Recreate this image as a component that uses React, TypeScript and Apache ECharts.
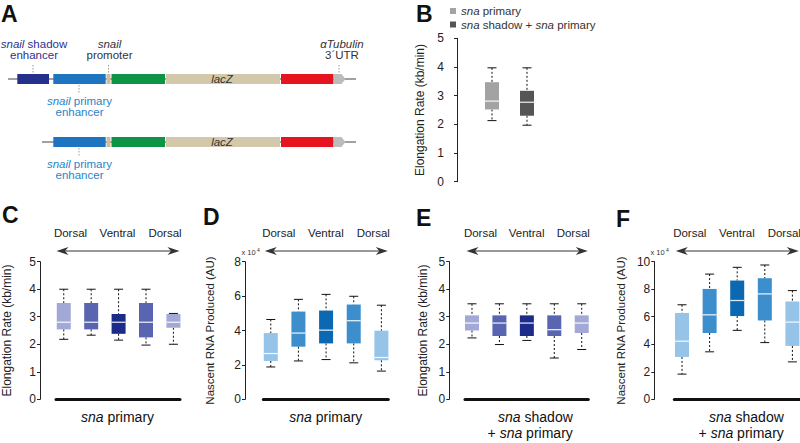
import React, { useEffect, useRef } from 'react';
import * as echarts from 'echarts';

const FONT = '"Liberation Sans", Arial, Helvetica, sans-serif';

// ---------- DATA ----------
const positions = [1, 2, 3, 4, 5]; // embryo position: Dorsal -> Ventral -> Dorsal
const regionLabels = ['Dorsal', 'Ventral', 'Dorsal'];
const legendNames = ['sna primary', 'sna shadow + sna primary'];

// boxes as [min, q1, median, q3, max]
const bSnaPrimary = [2.13, 2.52, 2.81, 3.47, 3.97];
const bShadowPlusPrimary = [1.97, 2.3, 2.77, 3.17, 3.97];

const cRateSnaPrimary = [
  [2.18, 2.54, 2.8, 3.5, 4.0],
  [2.33, 2.54, 2.8, 3.5, 4.0],
  [2.15, 2.38, 2.8, 3.1, 4.0],
  [1.97, 2.25, 2.8, 3.5, 4.0],
  [2.0, 2.6, 2.8, 3.1, 3.12],
];
const dRnaSnaPrimary = [
  [1.88, 2.23, 2.66, 3.85, 4.64],
  [2.23, 3.06, 3.85, 5.1, 5.81],
  [2.31, 3.25, 4.02, 5.16, 6.1],
  [2.12, 3.25, 4.57, 5.51, 5.99],
  [1.64, 2.27, 2.43, 3.99, 5.47],
];
const eRateShadowPrimary = [
  [2.23, 2.5, 2.77, 3.05, 3.47],
  [1.99, 2.3, 2.77, 3.05, 3.47],
  [2.14, 2.3, 2.77, 3.05, 3.47],
  [1.5, 2.3, 2.53, 3.05, 3.47],
  [1.81, 2.41, 2.77, 3.05, 3.47],
];
const fRnaShadowPrimary = [
  [1.83, 3.08, 4.22, 6.27, 6.87],
  [3.45, 4.82, 6.14, 8.02, 9.1],
  [5.01, 6.05, 7.18, 8.63, 9.59],
  [4.12, 5.73, 7.66, 8.8, 9.76],
  [2.72, 3.88, 5.61, 7.11, 7.9],
];

// ---------- STYLE / LAYOUT ----------
const grayColors = ['#a3a3a3', '#555555'];
const purpleColors = ['#a3a9d6', '#5a65b1', '#1c2a8a', '#5a65b1', '#a3a9d6'];
const blueColors = ['#95c4e8', '#3d8ecd', '#0c68b1', '#3d8ecd', '#95c4e8'];

const panels = [
  { key: 'B', left: 448, width: 100, top: 38.3, height: 143.4, offset: 0, xMin: -0.257, xMax: 2.6, yMax: 5, yInterval: 1, yName: 'Elongation Rate (kb/min)', nameGap: 22, nameSize: 12, baseline: false },
  { key: 'C', left: 55, width: 125, top: 261.7, height: 137.6, offset: 16, xMin: 0.717, xMax: 5.24, yMax: 5, yInterval: 1, yName: 'Elongation Rate (kb/min)', nameGap: 27, nameSize: 12, baseline: true },
  { key: 'D', left: 263.3, width: 125, top: 261.7, height: 137.6, offset: 18.3, xMin: 0.73, xMax: 5.25, yMax: 8, yInterval: 2, yName: 'Nascent RNA Produced (AU)', nameGap: 29, nameSize: 11.5, baseline: true },
  { key: 'E', left: 465, width: 123.3, top: 261.7, height: 137.6, offset: 15.7, xMin: 0.745, xMax: 5.24, yMax: 5, yInterval: 1, yName: 'Elongation Rate (kb/min)', nameGap: 20, nameSize: 12, baseline: true },
  { key: 'F', left: 674.3, width: 125, top: 261.7, height: 137.6, offset: 20, xMin: 0.72, xMax: 5.25, yMax: 10, yInterval: 2, yName: 'Nascent RNA Produced (AU)', nameGap: 27, nameSize: 11.5, baseline: true },
];

const renderBox = (colors: string[]) => (params: any, api: any) => {
  const x = api.value(0);
  const lo = api.coord([x, api.value(1)]);
  const q1 = api.coord([x, api.value(2)]);
  const med = api.coord([x, api.value(3)]);
  const q3 = api.coord([x, api.value(4)]);
  const hi = api.coord([x, api.value(5)]);
  const cx = lo[0];
  const bw = 14;
  const cw = 9;
  const color = colors[params.dataIndex % colors.length];
  const dotted = { stroke: '#111', lineWidth: 1, lineDash: [2, 2] };
  const solid = { stroke: '#111', lineWidth: 1 };
  return {
    type: 'group',
    children: [
      { type: 'line', shape: { x1: cx, y1: hi[1], x2: cx, y2: q3[1] }, style: dotted },
      { type: 'line', shape: { x1: cx, y1: q1[1], x2: cx, y2: lo[1] }, style: dotted },
      { type: 'line', shape: { x1: cx - cw / 2, y1: hi[1], x2: cx + cw / 2, y2: hi[1] }, style: solid },
      { type: 'line', shape: { x1: cx - cw / 2, y1: lo[1], x2: cx + cw / 2, y2: lo[1] }, style: solid },
      { type: 'rect', shape: { x: cx - bw / 2, y: q3[1], width: bw, height: q1[1] - q3[1] }, style: { fill: color } },
      { type: 'line', shape: { x1: cx - bw / 2, y1: med[1], x2: cx + bw / 2, y2: med[1] }, style: { stroke: 'rgba(255,255,255,0.85)', lineWidth: 1.3 } },
    ],
  };
};

const boxSeries = (name: string, idx: number, boxes: number[][], xs: number[], colors: string[]) => ({
  type: 'custom',
  name,
  xAxisIndex: idx,
  yAxisIndex: idx,
  clip: false,
  itemStyle: { color: colors[0] },
  encode: { x: 0, y: [1, 2, 3, 4, 5] },
  renderItem: renderBox(colors),
  data: boxes.map((b, k) => [xs[k], ...b]),
});

const txt = (text: string, x: number, y: number, opts: any = {}) => {
  const fs = opts.fontSize || 11.5;
  const lh = opts.lineHeight || undefined;
  return {
    type: 'text',
    silent: true,
    style: {
      text,
      x,
      y,
      fill: opts.fill || '#333',
      fontSize: fs,
      fontFamily: FONT,
      fontWeight: opts.fontWeight || 'normal',
      fontStyle: opts.fontStyle || 'normal',
      align: opts.align || 'center',
      verticalAlign: opts.verticalAlign || 'middle',
      lineHeight: lh,
      rich: {
        i: { fontStyle: 'italic', fontSize: fs, fontFamily: FONT, fill: opts.fill || '#333', lineHeight: lh },
        n: { fontSize: fs, fontFamily: FONT, fill: opts.fill || '#333', lineHeight: lh },
      },
    },
  };
};

const vdots = (x: number, y1: number, y2: number) => ({
  type: 'line',
  silent: true,
  shape: { x1: x, y1, x2: x, y2 },
  style: { stroke: '#9a9a9a', lineWidth: 1, lineDash: [1.5, 1.5] },
});

function constructGraphic(): any[] {
  const els: any[] = [];
  // panel letters
  const letters: [string, number, number][] = [
    ['A', 1, 13.5], ['B', 416, 13.5], ['C', 2, 214.5], ['D', 203, 217], ['E', 416, 218], ['F', 616, 219],
  ];
  letters.forEach(([l, x, y]) => els.push(txt(l, x, y, { fontSize: 23, fontWeight: 'bold', fill: '#111', align: 'left' })));

  // ---- panel A: reporter constructs ----
  const segColors = {
    shadow: '#24308c', primary: '#1f74c1', promoter: '#cdbf9e', green: '#0e9447', lacz: '#d4c8aa', red: '#e6141f', utr: '#bcbcbc',
  };
  const rows = [
    { y: 79, lineStart: 8, shadow: true },
    { y: 142, lineStart: 42, shadow: false },
  ];
  rows.forEach((r) => {
    const h = 10;
    const top = r.y - h / 2;
    els.push({ type: 'line', silent: true, shape: { x1: r.lineStart, y1: r.y, x2: 356, y2: r.y }, style: { stroke: '#444', lineWidth: 1 } });
    const segs: [number, number, string][] = [];
    if (r.shadow) segs.push([17.3, 49, segColors.shadow]);
    segs.push([53.3, 105.7, segColors.primary]);
    segs.push([106.5, 110.5, segColors.promoter]);
    segs.push([111.5, 165, segColors.green]);
    segs.push([166, 280, segColors.lacz]);
    segs.push([281, 333.5, segColors.red]);
    segs.forEach(([a, b, c]) => els.push({ type: 'rect', silent: true, shape: { x: a, y: top, width: b - a, height: h }, style: { fill: c } }));
    els.push({
      type: 'polygon', silent: true,
      shape: { points: [[333.5, top], [341.5, top], [345.5, r.y], [341.5, top + h], [333.5, top + h]] },
      style: { fill: segColors.utr },
    });
    els.push(txt('lacZ', 222, r.y, { fontStyle: 'italic', fill: '#333' }));
    els.push(vdots(79, r.y + 6, r.y + 14));
    els.push(txt('{i|snail}{n| primary}\n{n|enhancer}', 79.5, r.y + 27.5, { fill: '#2a84c8', lineHeight: 11 }));
  });
  els.push(vdots(33, 65, 73));
  els.push(txt('{i|snail}{n| shadow}\n{n|enhancer}', 34, 49.5, { fill: '#2e3192', lineHeight: 11 }));
  els.push(vdots(108.5, 65, 73));
  els.push(txt('{i|snail}\n{n|promoter}', 109.5, 49.5, { fill: '#333', lineHeight: 11 }));
  els.push(vdots(339, 65, 73));
  els.push(txt('{i|αTubulin}\n{n|3´UTR}', 342, 49.5, { fill: '#333', lineHeight: 11 }));

  // ---- arrows + region labels + bottom labels for C-F ----
  panels.filter((p) => p.baseline).forEach((p) => {
    const x0 = p.left + 1.5;
    const x1 = p.left + p.width - 0.5;
    const y = 251;
    els.push({ type: 'line', silent: true, shape: { x1: x0 + 8, y1: y, x2: x1 - 8, y2: y }, style: { stroke: '#333', lineWidth: 1 } });
    els.push({ type: 'polygon', silent: true, shape: { points: [[x0, y], [x0 + 12, y - 4], [x0 + 8.5, y], [x0 + 12, y + 4]] }, style: { fill: '#333' } });
    els.push({ type: 'polygon', silent: true, shape: { points: [[x1, y], [x1 - 12, y - 4], [x1 - 8.5, y], [x1 - 12, y + 4]] }, style: { fill: '#333' } });
    const lx = [p.left + 15.5, p.left + p.width / 2, p.left + p.width - 15];
    regionLabels.forEach((l, k) => els.push(txt(l, lx[k], 233, { fill: '#222', fontSize: 11.5 })));
    if (p.key === 'C' || p.key === 'D') {
      els.push(txt('{i|sna}{n| primary}', p.left + p.width / 2, 417, { fontSize: 14, fill: '#111' }));
    } else {
      const rx = p.left + p.width - 15.5;
      els.push(txt('{i|sna}{n| shadow}\n{n|+ }{i|sna}{n| primary}', rx, 425, { fontSize: 14, fill: '#111', align: 'right', lineHeight: 16 }));
    }
    if (p.key === 'D' || p.key === 'F') {
      const sx = p.key === 'D' ? 241.5 : 650.5;
      els.push(txt('x 10', sx, 252.5, { fontSize: 7.5, fill: '#333', align: 'left' }));
      els.push(txt('4', sx + 15.5, 249.5, { fontSize: 5, fill: '#333', align: 'left' }));
    }
  });
  return els;
}

function buildOption(): any {
  return {
    animation: false,
    backgroundColor: '#ffffff',
    textStyle: { fontFamily: FONT },
    legend: {
      data: legendNames.map((n) => ({ name: n, icon: 'rect' })),
      orient: 'vertical',
      left: 445,
      top: 0,
      itemWidth: 6,
      itemHeight: 6,
      itemGap: 1.5,
      selectedMode: false,
      formatter: (n: string) => (n === legendNames[0] ? '{i|sna} primary' : '{i|sna} shadow + {i|sna} primary'),
      textStyle: {
        fontSize: 11.5, color: '#333', fontFamily: FONT,
        rich: { i: { fontStyle: 'italic', fontSize: 11.5, color: '#333', fontFamily: FONT } },
      },
    },
    grid: panels.map((p) => ({ left: p.left, top: p.top, width: p.width, height: p.height, containLabel: false })),
    xAxis: panels.map((p, i) => ({
      type: 'value',
      gridIndex: i,
      min: p.xMin,
      max: p.xMax,
      show: p.baseline,
      axisLine: { show: true, onZero: true, lineStyle: { color: '#111', width: 3 } },
      axisTick: { show: false },
      axisLabel: { show: false },
      splitLine: { show: false },
    })),
    yAxis: panels.map((p, i) => ({
      type: 'value',
      gridIndex: i,
      min: 0,
      max: p.yMax,
      interval: p.yInterval,
      offset: p.offset,
      name: p.yName,
      nameLocation: 'middle',
      nameGap: p.nameGap,
      nameTextStyle: { fontSize: p.nameSize, color: '#222', fontFamily: FONT },
      axisLine: { show: true, lineStyle: { color: '#222', width: 1 } },
      axisTick: { show: true, length: 3, lineStyle: { color: '#222', width: 1 } },
      axisLabel: { fontSize: 12, color: '#222', margin: 4, fontFamily: FONT },
      splitLine: { show: false },
    })),
    series: [
      boxSeries(legendNames[0], 0, [bSnaPrimary], [1], [grayColors[0]]),
      boxSeries(legendNames[1], 0, [bShadowPlusPrimary], [2], [grayColors[1]]),
      boxSeries('C', 1, cRateSnaPrimary, positions, purpleColors),
      boxSeries('D', 2, dRnaSnaPrimary, positions, blueColors),
      boxSeries('E', 3, eRateShadowPrimary, positions, purpleColors),
      boxSeries('F', 4, fRnaShadowPrimary, positions, blueColors),
    ],
    graphic: constructGraphic(),
  };
}

export default function App() {
  const ref = useRef<HTMLDivElement>(null);
  useEffect(() => {
    if (!ref.current) return;
    const chart = echarts.init(ref.current, undefined, { renderer: 'svg' });
    chart.setOption(buildOption());
    return () => chart.dispose();
  }, []);
  return (
    <div
      ref={ref}
      style={{ position: 'fixed', left: 0, top: 0, width: 800, height: 443, background: '#fff' }}
    />
  );
}
